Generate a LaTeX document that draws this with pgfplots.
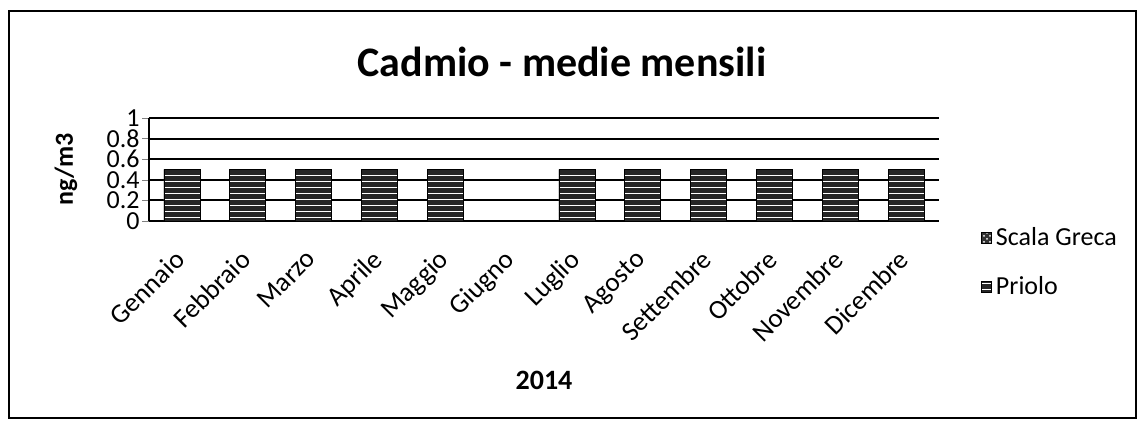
\documentclass[border=0pt]{standalone}
\usepackage{pgfplots}
\pgfplotsset{compat=1.18}
\usepackage{fontspec}
\setmainfont{Carlito}
\usetikzlibrary{patterns}

\begin{document}
\begin{tikzpicture}
\useasboundingbox (0,0) rectangle (571pt,211pt);
\draw[line width=1pt] (4.5pt,2pt) rectangle (568pt,205.5pt);
\node[font=\bfseries\fontsize{21}{24}\selectfont] at (281pt,180pt) {Cadmio - medie mensili};
\begin{axis}[
    at={(74.5pt,100.5pt)}, anchor=south west,
    scale only axis,
    width=395pt, height=51.5pt,
    ybar, bar width=18pt, bar shift=0pt,
    xmin=-0.5, xmax=11.5,
    ymin=0, ymax=1,
    ytick={0,0.2,...,1},
    yticklabels={0,0.2,0.4,0.6,0.8,1},
    xtick={0,...,11},
    xticklabels={Gennaio,Febbraio,Marzo,Aprile,Maggio,Giugno,Luglio,Agosto,Settembre,Ottobre,Novembre,Dicembre},
    x tick label style={rotate=45, anchor=north east, xshift=-6.8pt, yshift=-0.5pt, font=\fontsize{13.5}{13.5}\selectfont},
    major x tick style={draw=none},
    y tick label style={font=\fontsize{13}{11}\selectfont, inner sep=1pt},
    ticklabel style={/pgf/number format/assume math mode=true},
    axis lines*=left,
    axis line style={line width=1pt},
    ymajorgrids, grid style={black, line width=1pt},
    tick align=outside, major tick length=3.5pt,
    ylabel={\textbf{ng/m3}},
    ylabel style={at={(axis description cs:-0.105,0.5)}, anchor=center, font=\fontsize{13}{14}\selectfont},
    xlabel={\textbf{2014}},
    xlabel style={at={(axis description cs:0.5,-1.55)}, anchor=center, font=\fontsize{14}{14}\selectfont},
    legend style={at={(1.045,0.02)}, anchor=north west, draw=none, fill=none,
        font=\fontsize{13}{14}\selectfont, row sep=10pt},
    legend cell align=left,
    legend image code/.code={\draw[#1] (0cm,-0.09cm) rectangle (0.18cm,0.09cm);},
]
\addplot[draw=black, fill=black!80, postaction={pattern=crosshatch dots, pattern color=white}]
    coordinates {(0,0.5)(1,0.5)(2,0.5)(3,0.5)(4,0.5)(6,0.5)(7,0.5)(8,0.5)(9,0.5)(10,0.5)(11,0.5)};
\addplot[draw=black, fill=black!85, postaction={pattern=horizontal lines, pattern color=white}]
    coordinates {(0,0.5)(1,0.5)(2,0.5)(3,0.5)(4,0.5)(6,0.5)(7,0.5)(8,0.5)(9,0.5)(10,0.5)(11,0.5)};
\legend{Scala Greca,Priolo}
\end{axis}
\end{tikzpicture}
\end{document}
